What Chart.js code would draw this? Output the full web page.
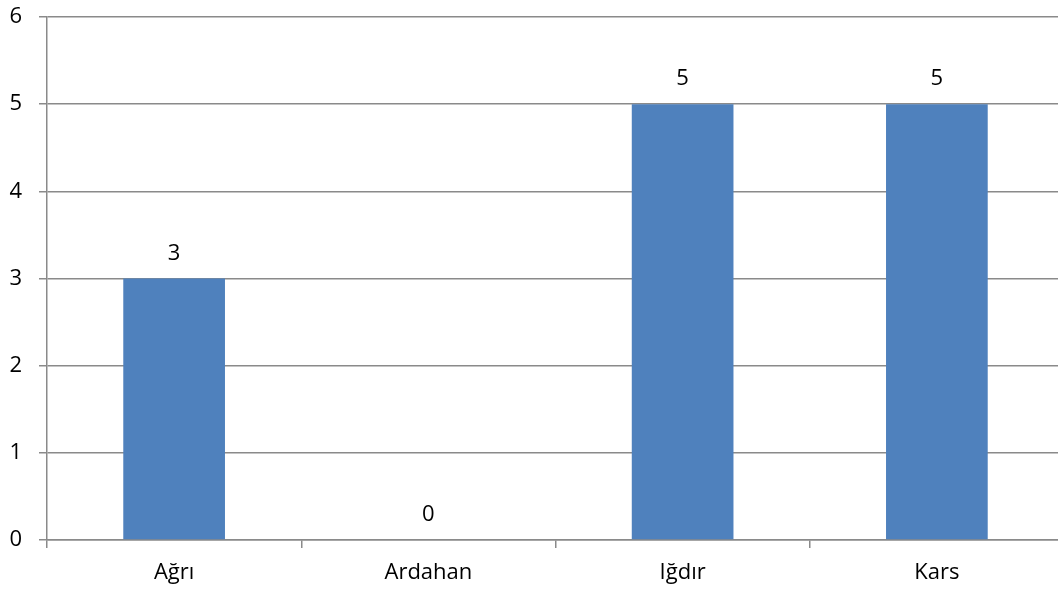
<!DOCTYPE html>
<html>
<head>
<meta charset="utf-8">
<script src="https://cdn.jsdelivr.net/npm/chart.js@4/dist/chart.umd.min.js"></script>
<style>
  html, body { margin: 0; padding: 0; background: #fff; overflow: hidden; }
  #wrap { width: 1064px; height: 589px; position: relative; }
</style>
</head>
<body>
<div id="wrap"><canvas id="cityChart"></canvas></div>
<script>
// chart data
const cities = ["Ağrı", "Ardahan", "Iğdır", "Kars"];
const counts = [3, 0, 5, 5];
const yTicks = [0, 1, 2, 3, 4, 5, 6];

const FONT = "'Open Sans', 'Noto Sans', sans-serif";
const FONT_SIZE = 22;
const AXIS_GREY = "#8a8a8a";

// value labels above each bar
const barLabels = {
  id: "barLabels",
  afterDatasetsDraw(chart) {
    const ctx = chart.ctx;
    ctx.save();
    ctx.font = FONT_SIZE + "px " + FONT;
    ctx.fillStyle = "#000";
    ctx.textAlign = "center";
    ctx.textBaseline = "alphabetic";
    chart.getDatasetMeta(0).data.forEach((bar, i) => {
      ctx.fillText(String(counts[i]), bar.x, bar.y - 19);
    });
    ctx.restore();
  },
};

const ctx = document.getElementById("cityChart").getContext("2d");
const cityChart = new Chart(ctx, {
  type: "bar",
  data: {
    labels: cities,
    datasets: [
      {
        data: counts,
        backgroundColor: "#4F81BD",
        borderWidth: 0,
        barPercentage: 0.4,
        categoryPercentage: 1,
      },
    ],
  },
  options: {
    responsive: true,
    maintainAspectRatio: false,
    animation: false,
    layout: { padding: { top: 17, right: 0, left: 0, bottom: 0 } },
    plugins: {
      legend: { display: false },
      tooltip: { enabled: false },
    },
    scales: {
      x: {
        offset: true,
        grid: {
          offset: true,
          drawOnChartArea: false,
          drawTicks: true,
          tickLength: 8,
          color: AXIS_GREY,
          lineWidth: 1.5,
        },
        border: { display: true, color: AXIS_GREY, width: 1.5 },
        ticks: {
          color: "#000",
          font: { family: FONT, size: FONT_SIZE },
          padding: 12,
          maxRotation: 0,
        },
        afterFit(scale) {
          scale.height = 49;
          scale.paddingLeft = 0;
          scale.paddingRight = 0;
        },
      },
      y: {
        min: 0,
        max: 6,
        afterBuildTicks(scale) {
          scale.ticks = yTicks.map((v) => ({ value: v }));
        },
        grid: {
          color: AXIS_GREY,
          lineWidth: 1.5,
          drawTicks: true,
          tickLength: 8,
        },
        border: { display: true, color: AXIS_GREY, width: 1.5 },
        ticks: {
          color: "#000",
          font: { family: FONT, size: FONT_SIZE },
          padding: 17,
        },
        afterFit(scale) {
          scale.width = 47;
          scale.paddingTop = 0;
          scale.paddingBottom = 0;
        },
      },
    },
  },
  plugins: [barLabels],
});
</script>
</body>
</html>
